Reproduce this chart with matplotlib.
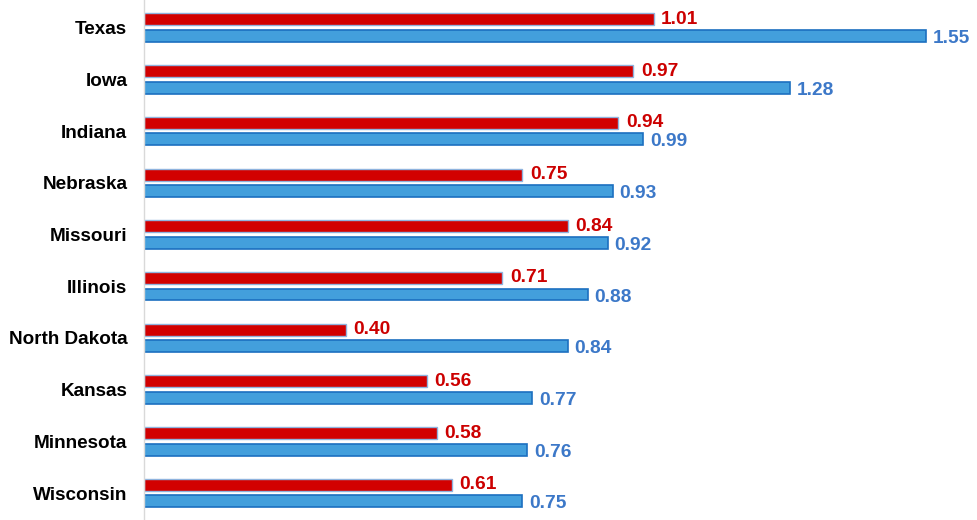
import matplotlib.pyplot as plt
import numpy as np

states = ['Texas', 'Iowa', 'Indiana', 'Nebraska', 'Missouri', 'Illinois',
          'North Dakota', 'Kansas', 'Minnesota', 'Wisconsin']
red_vals = [1.01, 0.97, 0.94, 0.75, 0.84, 0.71, 0.40, 0.56, 0.58, 0.61]
blue_vals = [1.55, 1.28, 0.99, 0.93, 0.92, 0.88, 0.84, 0.77, 0.76, 0.75]

plt.rcParams['font.family'] = ['Liberation Sans', 'DejaVu Sans']

fig = plt.figure(figsize=(9.78, 5.2), dpi=100)
ax = fig.add_axes([144 / 978, 0, 1 - 144 / 978, 1])

y = np.arange(len(states))
h = 0.23
off = 0.16

ax.barh(y - off, red_vals, height=h, color='#D20000', edgecolor='#8FB3DE', linewidth=1)
ax.barh(y + off, blue_vals, height=h, color='#439FDC', edgecolor='#1C70C0', linewidth=1.2)

for i in range(len(states)):
    ax.text(red_vals[i] + 0.015, y[i] - off, f'{red_vals[i]:.2f}', color='#CC0000',
            fontsize=13.8, fontweight='bold', va='center', ha='left')
    ax.text(blue_vals[i] + 0.013, y[i] + off + 0.05, f'{blue_vals[i]:.2f}', color='#3C78C8',
            fontsize=13.8, fontweight='bold', va='center', ha='left')

ax.set_yticks(y)
ax.set_yticklabels(states, fontsize=13.6, fontweight='bold')
ax.tick_params(axis='y', length=0, pad=12)
ax.set_xticks([])
ax.set_xlim(0, 834 / 504.5)
ax.set_ylim(9.52, -0.536)

for s in ['top', 'right', 'bottom']:
    ax.spines[s].set_visible(False)
ax.spines['left'].set_color('#D9D9D9')
ax.spines['left'].set_linewidth(1)

fig.savefig('out.png', dpi=100)
